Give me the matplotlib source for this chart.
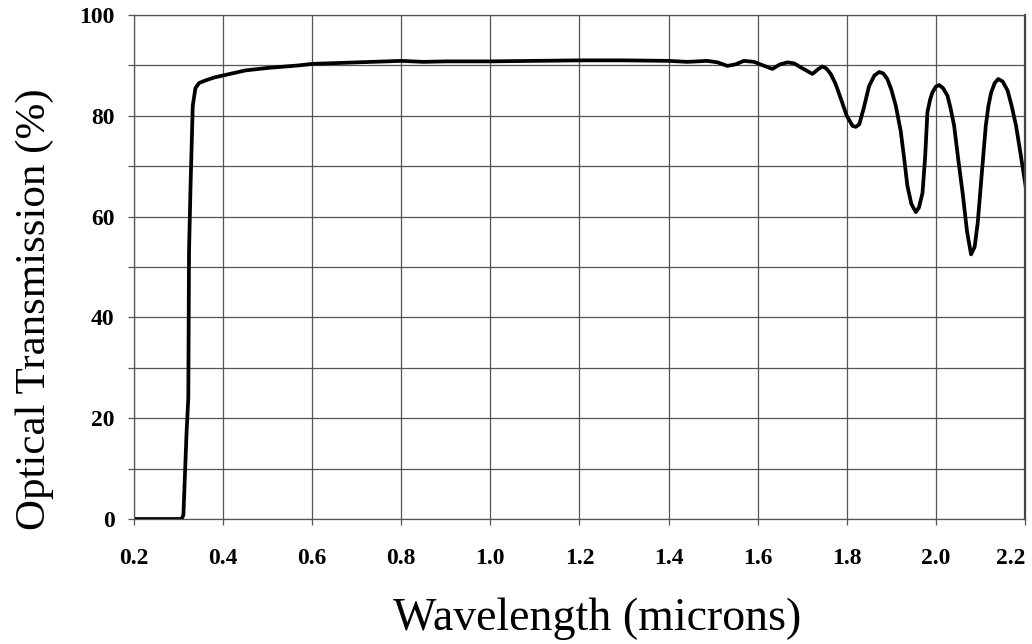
import matplotlib.pyplot as plt
from matplotlib.ticker import MultipleLocator

# wavelength (microns) and transmission (%)
wavelength = [0.20, 0.25, 0.30, 0.307, 0.311, 0.315, 0.318, 0.322, 0.3236, 0.327,
              0.332, 0.338, 0.346, 0.36, 0.38, 0.40, 0.45, 0.50, 0.57, 0.60,
              0.70, 0.80, 0.85, 0.90, 1.00, 1.10, 1.20, 1.30, 1.40, 1.442,
              1.487, 1.510, 1.532, 1.550, 1.569, 1.592, 1.612, 1.633, 1.650, 1.667,
              1.682, 1.697, 1.723, 1.735, 1.745, 1.754, 1.764, 1.775, 1.787, 1.800,
              1.813, 1.820, 1.828, 1.838, 1.850, 1.862, 1.873, 1.882, 1.891, 1.900,
              1.910, 1.921, 1.929, 1.936, 1.945, 1.955, 1.962, 1.970, 1.976, 1.981,
              1.987, 1.992, 2.000, 2.007, 2.016, 2.026, 2.033, 2.041, 2.050, 2.060,
              2.070, 2.079, 2.087, 2.094, 2.103, 2.112, 2.118, 2.124, 2.132, 2.140,
              2.150, 2.161, 2.170, 2.180, 2.190, 2.202]
transmission = [0.0, 0.0, 0.0, 0.0, 0.8, 10.0, 17.0, 24.0, 53.0, 66.0,
                82.0, 85.5, 86.5, 87.0, 87.6, 88.0, 89.0, 89.5, 90.0, 90.3,
                90.6, 90.9, 90.7, 90.8, 90.8, 90.9, 91.0, 91.0, 90.9, 90.7,
                90.9, 90.6, 89.9, 90.2, 90.9, 90.7, 90.0, 89.3, 90.2, 90.6,
                90.4, 89.6, 88.3, 89.2, 89.8, 89.4, 88.3, 86.3, 83.3, 80.0,
                78.0, 77.8, 78.3, 81.5, 85.9, 88.0, 88.7, 88.4, 87.3, 85.2,
                82.0, 77.0, 71.4, 66.1, 62.5, 60.9, 61.8, 64.7, 72.0, 80.7,
                83.2, 84.6, 85.8, 86.1, 85.5, 84.0, 81.5, 78.0, 71.5, 64.7,
                57.0, 52.5, 54.0, 58.8, 68.5, 78.0, 82.0, 84.6, 86.5, 87.3,
                86.8, 85.0, 82.0, 78.0, 72.5, 65.7]

xticks = [0.2, 0.4, 0.6, 0.8, 1.0, 1.2, 1.4, 1.6, 1.8, 2.0, 2.2]
yticks = [0, 20, 40, 60, 80, 100]

plt.rcParams['font.family'] = ['Liberation Serif', 'DejaVu Serif']

fig = plt.figure(figsize=(10.32, 6.44), dpi=100)
ax = fig.add_axes([0.1298, 0.1941, 0.8634, 0.7826])

ax.plot(wavelength, transmission, color="black", linewidth=2.7, solid_joinstyle="round")

ax.set_xlim(0.2, 2.2)
ax.set_ylim(0, 100)
ax.set_xticks(xticks)
ax.set_xticklabels([f"{t:.1f}" for t in xticks])
ax.set_yticks(yticks)
ax.set_yticklabels([str(t) for t in yticks])
ax.yaxis.set_minor_locator(MultipleLocator(10))

ax.grid(True, which="major", color="#555555", linewidth=0.9)
ax.grid(True, which="minor", axis="y", color="#555555", linewidth=0.9)
ax.set_axisbelow(True)

for label in ax.get_xticklabels() + ax.get_yticklabels():
    label.set_fontweight("bold")
    label.set_fontsize(17)
# last x label sits inside the right edge, like the original
ax.get_xticklabels()[-1].set_horizontalalignment("right")

ax.tick_params(axis="both", which="both", direction="out", length=4, width=0.9, color="#555555")
ax.tick_params(axis="x", pad=17)
ax.tick_params(axis="y", pad=10)

for side in ["left", "bottom", "top"]:
    ax.spines[side].set_color("#555555")
    ax.spines[side].set_linewidth(0.9)
ax.spines["right"].set_color("#444444")
ax.spines["right"].set_linewidth(1.6)

ax.set_xlabel("Wavelength (microns)", fontsize=33)
ax.set_ylabel("Optical Transmission (%)", fontsize=31)
ax.xaxis.set_label_coords(0.52, -0.155)
ax.yaxis.set_label_coords(-0.09, 0.417)

fig.savefig("out.png", dpi=100)
